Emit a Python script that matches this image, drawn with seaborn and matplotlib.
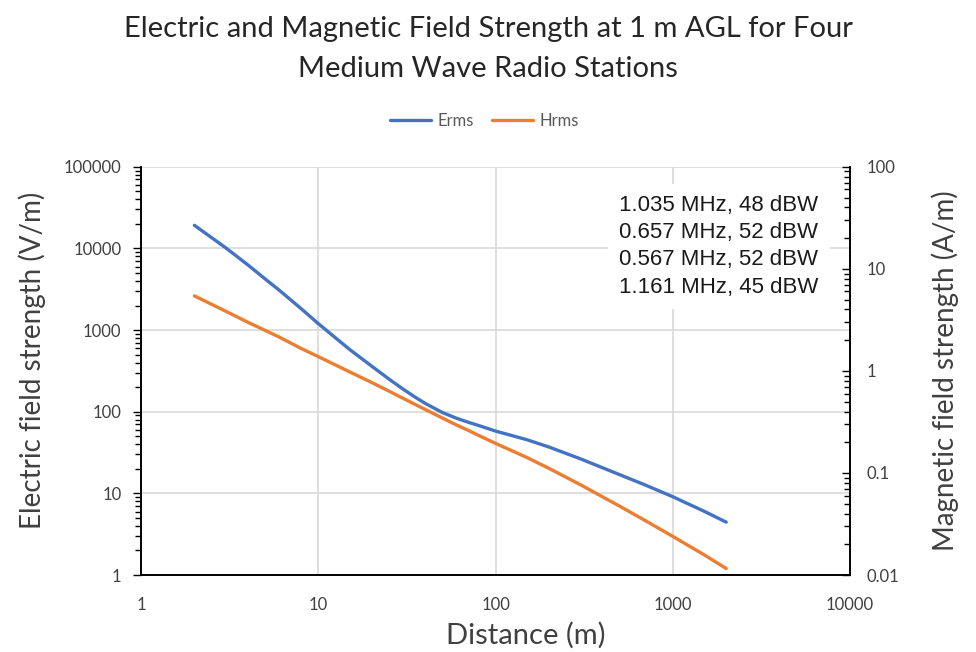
import matplotlib
matplotlib.use("Agg")
import matplotlib.pyplot as plt
import matplotlib.ticker as mticker
import seaborn as sns
import pandas as pd
import numpy as np

# values
distance_m = [2, 3, 4, 5, 6, 8, 10, 15, 20, 25, 30, 35, 40, 50, 60, 70, 80, 100,
              150, 200, 300, 500, 700, 1000, 1500, 2000]
erms_v_per_m = [19200, 10200, 6300, 4250, 3100, 1830, 1200, 580, 362, 252, 190, 152, 127, 98, 83.5, 74.5, 68, 58,
                45.5, 37, 26.6, 17.0, 12.65, 9.1, 6.05, 4.45]
hrms_a_per_m = [5.43, 3.85, 3.0, 2.5, 2.15, 1.66, 1.38, 0.98, 0.77, 0.635, 0.54, 0.472, 0.42, 0.346, 0.296, 0.262,
                0.234, 0.195, 0.142, 0.111, 0.077, 0.0474, 0.0341, 0.0239, 0.0158, 0.0116]

stations = ["1.035 MHz, 48 dBW", "0.657 MHz, 52 dBW",
            "0.567 MHz, 52 dBW", "1.161 MHz, 45 dBW"]

left_ticks = [1, 10, 100, 1000, 10000, 100000]
right_ticks = [0.01, 0.1, 1, 10, 100]
x_ticks = [1, 10, 100, 1000, 10000]

E_COLOR = "#4472C4"
H_COLOR = "#ED7D31"
GRID = "#d9d9d9"
TEXT = "#404040"

sns.set_style("white")
plt.rcParams['font.family'] = ['Lato', 'DejaVu Sans']

df = pd.DataFrame({"Distance": distance_m, "Erms": erms_v_per_m, "Hrms": hrms_a_per_m})

fig = plt.figure(figsize=(9.76, 6.52), dpi=100)
ax = fig.add_axes([0.1445, 0.118, 0.7265, 0.6262])
ax2 = ax.twinx()

sns.lineplot(data=df, x="Distance", y="Erms", ax=ax, color=E_COLOR, lw=2.4, label="Erms", legend=False)
sns.lineplot(data=df, x="Distance", y="Hrms", ax=ax2, color=H_COLOR, lw=2.4, label="Hrms", legend=False)

for a in (ax, ax2):
    a.set_xscale("log")
    a.set_yscale("log")
    a.set_xlim(1, 10000)

ax.set_ylim(1, 100000)
ax2.set_ylim(0.01, 100)

ax.set_xticks(x_ticks)
ax.set_xticklabels([str(t) for t in x_ticks])
ax.set_yticks(left_ticks)
ax.set_yticklabels([str(t) for t in left_ticks])
ax2.set_yticks(right_ticks)
ax2.set_yticklabels([f"{t:g}" for t in right_ticks])

ax.xaxis.set_minor_locator(mticker.LogLocator(base=10, subs=np.arange(2, 10), numticks=20))
ax.yaxis.set_minor_locator(mticker.LogLocator(base=10, subs=np.arange(2, 10), numticks=20))
ax2.yaxis.set_minor_locator(mticker.LogLocator(base=10, subs=np.arange(2, 10), numticks=20))
for a in (ax, ax2):
    a.xaxis.set_minor_formatter(mticker.NullFormatter())
    a.yaxis.set_minor_formatter(mticker.NullFormatter())

ax.grid(True, which="major", color=GRID, lw=1.2)
ax.set_axisbelow(True)

for a in (ax, ax2):
    a.spines["top"].set_visible(False)
    for s in ("left", "bottom", "right"):
        a.spines[s].set_color("#000000")
        a.spines[s].set_linewidth(1.2)

ax.tick_params(axis="both", which="major", direction="out", length=6, width=1, color="black",
               labelsize=12, labelcolor=TEXT)
ax.tick_params(axis="y", which="major", pad=8)
ax.tick_params(axis="x", which="major", pad=10)
ax.tick_params(axis="both", which="minor", direction="out", length=4, width=1, color="black")
ax.tick_params(axis="y", which="both", right=False)
ax2.tick_params(axis="y", which="major", direction="in", length=6, width=1, color="black",
                labelsize=12, labelcolor=TEXT, pad=12)
ax2.tick_params(axis="y", which="minor", direction="in", length=4, width=1, color="black")

ax.set_xlabel("Distance (m)", fontsize=21, color=TEXT)
ax.xaxis.set_label_coords(0.5426, -0.115)
ax.set_ylabel("Electric field strength (V/m)", fontsize=20, color=TEXT)
ax.yaxis.set_label_coords(-0.134, 0.527)
ax2.set_ylabel("Magnetic field strength (A/m)", fontsize=20, color=TEXT)
ax2.yaxis.set_label_coords(1.115, 0.5)

fig.text(0.5, 1 - 29 / 652, "Electric and Magnetic Field Strength at 1 m AGL for Four",
         ha="center", va="center", fontsize=21, color="#262626")
fig.text(0.5, 1 - 69 / 652, "Medium Wave Radio Stations",
         ha="center", va="center", fontsize=21, color="#262626")

handles = ax.get_lines()[:1] + ax2.get_lines()[:1]
fig.legend(handles, ["Erms", "Hrms"], loc="center", bbox_to_anchor=(0.496, 0.814), ncol=2,
           frameon=False, fontsize=12, labelcolor="#595959", handlelength=2.5,
           columnspacing=1.1, handletextpad=0.35)

ax.text(0.815, 0.805, "\n".join(stations), transform=ax.transAxes, ha="center", va="center",
        fontsize=16, color="#1a1a1a", family=["Liberation Sans", "DejaVu Sans"], linespacing=1.38,
        bbox=dict(facecolor="white", edgecolor="none", pad=8), zorder=5)

fig.savefig("out.png", dpi=100)
